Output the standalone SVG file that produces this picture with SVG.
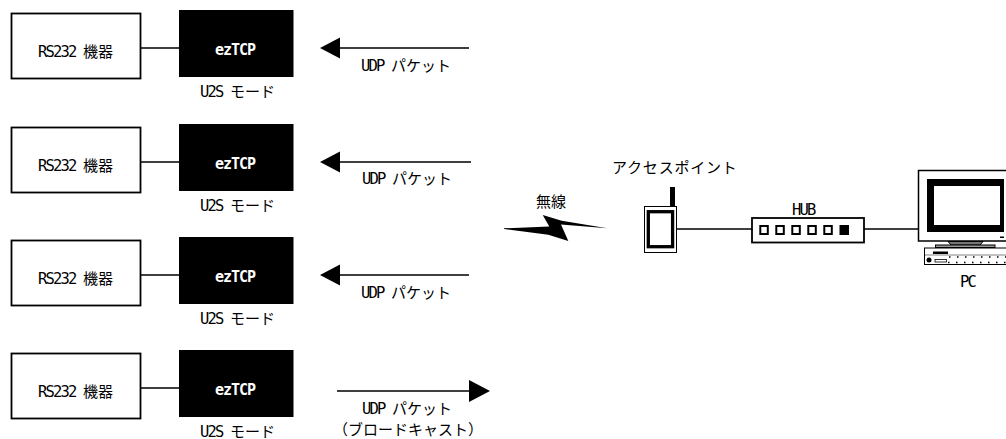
<svg xmlns="http://www.w3.org/2000/svg" xmlns:xlink="http://www.w3.org/1999/xlink" width="1006" height="439" viewBox="0 0 1006 439">
<style>
text{font-family:"Noto Sans CJK JP",sans-serif;font-size:15px;fill:#000}
.l{font-family:"DejaVu Sans Mono",monospace;font-size:15.500px;letter-spacing:-1.830px}
.e{font-family:"DejaVu Sans Mono",monospace;font-size:15px;font-weight:bold;fill:#fff;letter-spacing:-1px}
.box{fill:#fff;stroke:#000;stroke-width:1.800}
.blk{fill:#000}
.ln{fill:none;stroke:#000;stroke-width:1.500}
</style>
<defs>
<g id="rs"><rect class="box" x="11.500" y="13.500" width="129" height="65"/><text x="38" y="57"><tspan class="l">RS232 </tspan>機器</text></g>
<g id="ez"><rect class="blk" x="179" y="10" width="114.500" height="67"/><text class="e" x="215" y="55">ezTCP</text><text x="200" y="97"><tspan class="l">U2S </tspan>モード</text></g>
</defs>
<g id="connectors">
<path class="ln" d="M140 48H179M140 162H179M140 275H179M140 388H179"/>
<path class="ln" d="M338 48H469M338 162H471M338 275H469M337 391H470"/>
<path class="blk" d="M320 48L340 37.500V58.500ZM320 162L340 151.500V172.500ZM320 275L340 264.500V285.500ZM490 391L469 380V402Z"/>
<path class="ln" d="M677 229H752M864 229H918"/>
</g>
<g id="node-rs1"><use xlink:href="#rs"/></g>
<g id="node-ez1"><use xlink:href="#ez"/></g>
<g id="node-rs2"><use xlink:href="#rs" y="114"/></g>
<g id="node-ez2"><use xlink:href="#ez" y="114"/></g>
<g id="node-rs3"><use xlink:href="#rs" y="227"/></g>
<g id="node-ez3"><use xlink:href="#ez" y="227"/></g>
<g id="node-rs4"><use xlink:href="#rs" y="340"/></g>
<g id="node-ez4"><use xlink:href="#ez" y="340"/></g>
<g id="labels">
<text x="361" y="71"><tspan class="l">UDP </tspan>パケット</text>
<text x="362" y="184"><tspan class="l">UDP </tspan>パケット</text>
<text x="361" y="298"><tspan class="l">UDP </tspan>パケット</text>
<text x="362" y="414"><tspan class="l">UDP </tspan>パケット</text>
<text x="333" y="435">（ブロードキャスト）</text>
<text x="536" y="207">無線</text>
</g>
<g id="wireless"><path class="blk" d="M504 228.300L549.300 226.500L542.700 215L561.700 220.700L607.300 228.300L561 224.500L568.300 241L548.300 234.700L504 229Z"/></g>
<g id="node-ap">
<text x="612" y="173" style="letter-spacing:.8px">アクセスポイント</text>
<rect class="blk" x="670" y="187" width="5" height="20"/>
<rect x="644.500" y="206.500" width="32" height="46" fill="#fff" stroke="#000"/>
<rect x="648.300" y="211.700" width="24.300" height="35" fill="#fff" stroke="#000" stroke-width="3.300"/>
</g>
<g id="node-hub">
<text class="l" x="792" y="215">HUB</text>
<rect class="box" x="752" y="218" width="112" height="24.500"/>
<g fill="#fff" stroke="#000" stroke-width="2"><rect x="760.300" y="226" width="7.500" height="8"/><rect x="776.300" y="226" width="7.500" height="8"/><rect x="792.300" y="226" width="7.500" height="8"/><rect x="808.300" y="226" width="7.500" height="8"/><rect x="824.300" y="226" width="7.500" height="8"/></g>
<rect class="blk" x="839.500" y="225" width="9.500" height="10"/>
</g>
<g id="node-pc">
<path d="M1006 170.500H918.500V241H1006" fill="#fff" stroke="#000" stroke-width="1.500"/>
<rect class="blk" x="927" y="179" width="77" height="53"/>
<rect x="934" y="186" width="66" height="39" fill="#fff"/>
<rect class="blk" x="1000" y="236.500" width="4" height="1.500"/>
<path d="M948 241.500H983L980 245H951Z" fill="#777" stroke="#000"/>
<rect x="935.500" y="245" width="59.500" height="2.500" fill="#999" stroke="#000"/>
<rect x="924.500" y="248" width="82" height="16.500" fill="#fff" stroke="#000"/>
<rect class="blk" x="933" y="251.500" width="15" height="2.500"/>
<path d="M925 255H1006" stroke="#666" stroke-width=".8"/>
<circle class="blk" cx="929" cy="260" r="2.500"/>
<rect x="935" y="259.500" width="11.500" height="2.500" fill="#fff" stroke="#000" stroke-width=".8"/>
<path d="M949 257H1006M948 262.500H1006" stroke="#000" stroke-width="1.500" stroke-dasharray="1.500 6.500"/>
<text x="960" y="287" class="l">PC</text>
</g>
</svg>
